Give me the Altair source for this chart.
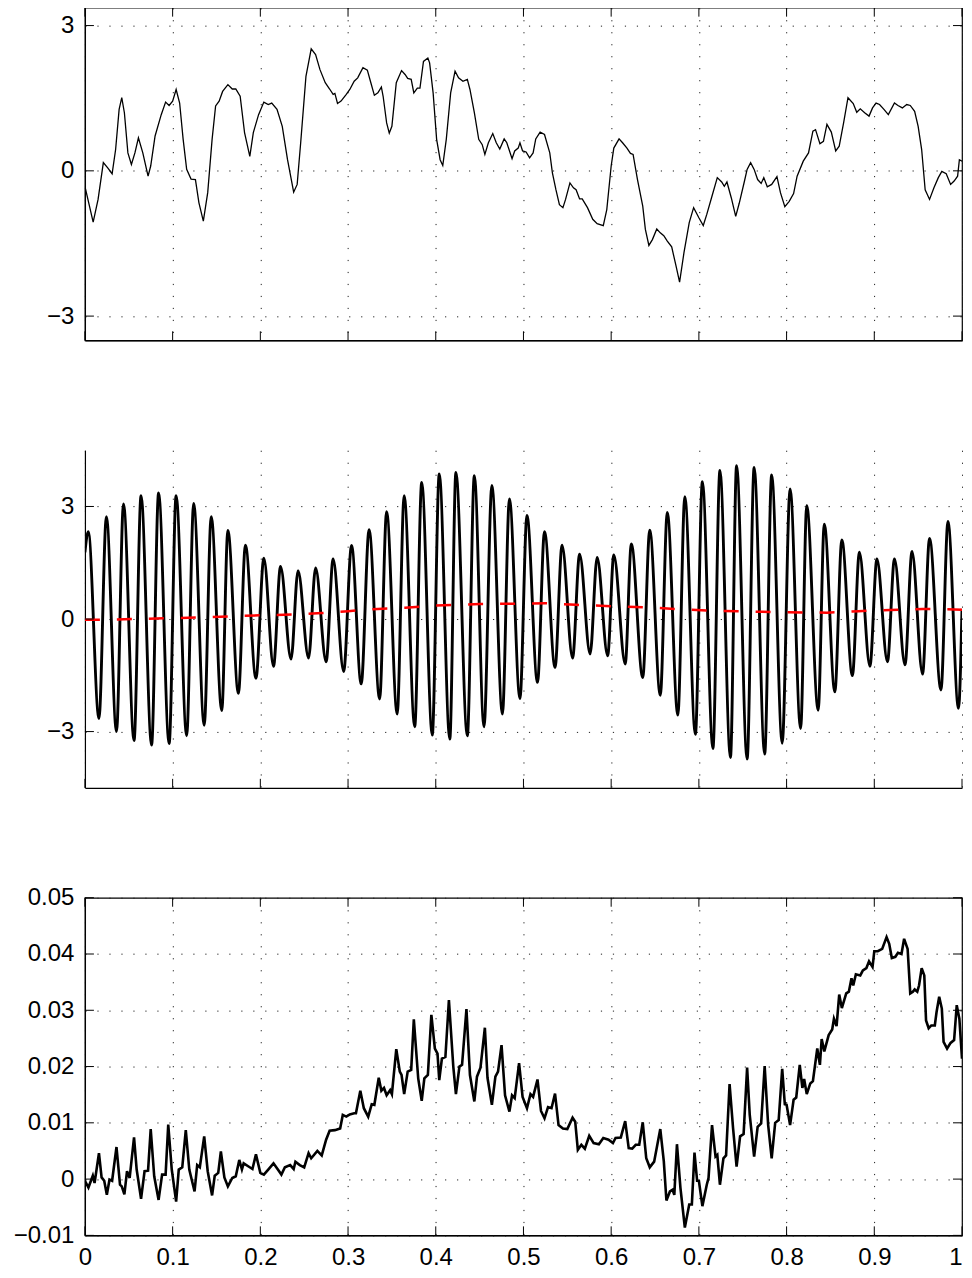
import altair as alt
import pandas as pd

# ---------------- data ----------------
X_TICKS = [0, 0.1, 0.2, 0.3, 0.4, 0.5, 0.6, 0.7, 0.8, 0.9, 1.0]
Y1_TICKS = [-3, 0, 3]
Y2_TICKS = [-3, 0, 3]
Y3_TICKS = [-0.01, 0, 0.01, 0.02, 0.03, 0.04, 0.05]

# top panel: noisy signal (t, value)
SIGNAL_TOP = [
    (0, -0.32), (0.0094, -1.06), (0.015, -0.59), (0.021, 0.17), (0.026, 0.06), (0.031, -0.06),
    (0.035, 0.44), (0.039, 1.27), (0.042, 1.51), (0.045, 1.2), (0.049, 0.37), (0.053, 0.13),
    (0.057, 0.37), (0.061, 0.68), (0.066, 0.37), (0.072, -0.11), (0.075, 0.10), (0.080, 0.72),
    (0.087, 1.16), (0.092, 1.42), (0.096, 1.35), (0.100, 1.44), (0.104, 1.68), (0.108, 1.40),
    (0.112, 0.65), (0.116, 0.03), (0.121, -0.17), (0.126, -0.18), (0.130, -0.66), (0.135, -1.04),
    (0.140, -0.45), (0.145, 0.65), (0.149, 1.34), (0.153, 1.44), (0.157, 1.64), (0.163, 1.78),
    (0.168, 1.69), (0.172, 1.69), (0.177, 1.54), (0.182, 0.79), (0.188, 0.30), (0.192, 0.79),
    (0.198, 1.16), (0.204, 1.42), (0.209, 1.37), (0.213, 1.40), (0.219, 1.27), (0.225, 0.92),
    (0.231, 0.23), (0.238, -0.44), (0.242, -0.28), (0.246, 0.58), (0.252, 1.95), (0.258, 2.52),
    (0.263, 2.40), (0.268, 2.09), (0.274, 1.82), (0.279, 1.69), (0.283, 1.58), (0.285, 1.60),
    (0.288, 1.39), (0.292, 1.44), (0.298, 1.58), (0.302, 1.68), (0.307, 1.85), (0.311, 1.92),
    (0.317, 2.13), (0.322, 2.08), (0.326, 1.82), (0.330, 1.56), (0.334, 1.61),
    (0.338, 1.73), (0.340, 1.54), (0.344, 0.99), (0.347, 0.78), (0.350, 0.92), (0.355, 1.82),
    (0.361, 2.07), (0.365, 1.99), (0.368, 1.91), (0.372, 1.89), (0.375, 1.61), (0.379, 1.71),
    (0.382, 1.71), (0.386, 2.26), (0.391, 2.33), (0.393, 2.23), (0.397, 1.61), (0.401, 0.65),
    (0.405, 0.23), (0.408, 0.11), (0.412, 0.65), (0.417, 1.61), (0.422, 2.06), (0.426, 1.92),
    (0.431, 1.85), (0.436, 1.89), (0.439, 1.68), (0.444, 1.20), (0.449, 0.65), (0.453, 0.54),
    (0.456, 0.34), (0.460, 0.58), (0.465, 0.77), (0.469, 0.58), (0.473, 0.45), (0.478, 0.66),
    (0.481, 0.58), (0.487, 0.25), (0.490, 0.41), (0.494, 0.47), (0.496, 0.58), (0.499, 0.41),
    (0.503, 0.39), (0.507, 0.27), (0.511, 0.37), (0.514, 0.66), (0.519, 0.80), (0.524, 0.75),
    (0.530, 0.37), (0.533, -0.04), (0.537, -0.39), (0.541, -0.70), (0.545, -0.76), (0.548, -0.59),
    (0.553, -0.25), (0.557, -0.35), (0.560, -0.39), (0.564, -0.58), (0.567, -0.58), (0.573, -0.76),
    (0.579, -1.00), (0.584, -1.09), (0.591, -1.13), (0.595, -0.80), (0.600, 0.10), (0.603, 0.47),
    (0.609, 0.66), (0.613, 0.58), (0.618, 0.47), (0.622, 0.36), (0.625, 0.34), (0.630, -0.18),
    (0.636, -0.73), (0.639, -1.21), (0.643, -1.54), (0.647, -1.42), (0.652, -1.20), (0.656, -1.28),
    (0.660, -1.34), (0.664, -1.45),
    (0.669, -1.57), (0.674, -1.97), (0.678, -2.30), (0.683, -1.69), (0.689, -1.07), (0.694, -0.76),
    (0.700, -0.97), (0.705, -1.13), (0.709, -0.90), (0.715, -0.52), (0.721, -0.14), (0.726, -0.23),
    (0.729, -0.32), (0.732, -0.23), (0.737, -0.56), (0.742, -0.94), (0.746, -0.67), (0.752, -0.21),
    (0.755, 0.03), (0.759, 0.17), (0.763, 0.03), (0.767, -0.18), (0.771, -0.26), (0.774, -0.14),
    (0.778, -0.33), (0.783, -0.28), (0.789, -0.12), (0.793, -0.45), (0.798, -0.74), (0.803, -0.63),
    (0.808, -0.47), (0.812, -0.11), (0.819, 0.20), (0.825, 0.37), (0.830, 0.82), (0.833, 0.85),
    (0.838, 0.56), (0.842, 0.61), (0.846, 0.96), (0.851, 0.80), (0.856, 0.41), (0.860, 0.51),
    (0.865, 0.99), (0.870, 1.51), (0.876, 1.39), (0.880, 1.21), (0.884, 1.28), (0.889, 1.20),
    (0.894, 1.13), (0.898, 1.30), (0.902, 1.40), (0.906, 1.37), (0.911, 1.27), (0.916, 1.16),
    (0.923, 1.40), (0.927, 1.35), (0.932, 1.30), (0.937, 1.37), (0.941, 1.35), (0.946, 1.23),
    (0.950, 0.92), (0.954, 0.44), (0.958, -0.39), (0.963, -0.59), (0.968, -0.35), (0.973, -0.14),
    (0.977, -0.01), (0.982, -0.06), (0.987, -0.28), (0.991, -0.21), (0.995, -0.11), (0.997, 0.23),
    (1.0, 0.20),
]

# middle panel: oscillation, successive peaks / troughs (t, value)
OSC_EXTREMA = [
    (0, 1.78), (0.0038, 2.33), (0.016, -2.65), (0.0245, 2.73), (0.036, -3.0), (0.044, 3.07),
    (0.056, -3.24), (0.064, 3.29), (0.076, -3.36), (0.084, 3.36), (0.096, -3.32), (0.104, 3.29),
    (0.116, -3.11), (0.124, 3.08), (0.136, -2.83), (0.144, 2.73), (0.156, -2.44), (0.163, 2.36),
    (0.175, -1.98), (0.183, 1.97), (0.195, -1.58), (0.204, 1.62), (0.215, -1.26), (0.223, 1.40),
    (0.235, -1.07), (0.243, 1.29), (0.255, -1.04), (0.263, 1.36), (0.275, -1.14), (0.283, 1.60),
    (0.295, -1.40), (0.304, 1.96), (0.315, -1.73), (0.324, 2.38), (0.336, -2.13), (0.344, 2.86),
    (0.356, -2.53), (0.364, 3.29), (0.376, -2.87), (0.384, 3.64), (0.396, -3.09), (0.404, 3.87),
    (0.416, -3.20), (0.423, 3.91), (0.436, -3.11), (0.444, 3.82), (0.455, -2.87), (0.464, 3.56),
    (0.476, -2.53), (0.484, 3.20), (0.496, -2.12), (0.504, 2.76), (0.516, -1.69), (0.524, 2.33),
    (0.536, -1.29), (0.544, 1.97), (0.556, -1.04), (0.564, 1.73), (0.576, -0.93), (0.584, 1.64),
    (0.596, -0.98), (0.603, 1.71), (0.616, -1.20), (0.623, 2.00), (0.636, -1.56), (0.644, 2.37),
    (0.656, -2.03), (0.664, 2.84), (0.676, -2.56), (0.684, 3.26), (0.696, -3.07), (0.704, 3.66),
    (0.716, -3.45), (0.724, 3.96), (0.736, -3.69), (0.743, 4.09), (0.755, -3.73), (0.763, 4.04),
    (0.775, -3.60), (0.783, 3.84), (0.795, -3.31), (0.804, 3.47), (0.816, -2.92), (0.823, 3.02),
    (0.836, -2.43), (0.843, 2.53), (0.855, -1.94), (0.863, 2.11), (0.875, -1.51), (0.883, 1.78),
    (0.895, -1.26), (0.903, 1.60), (0.915, -1.14), (0.923, 1.60), (0.935, -1.22), (0.943, 1.80),
    (0.955, -1.47), (0.963, 2.15), (0.976, -1.89), (0.984, 2.60), (0.996, -2.38), (1.0, 0.27),
]

# middle panel: red dashed trend (t, value)
TREND = [
    (0, -0.02), (0.028, -0.02), (0.056, 0.0), (0.09, 0.02), (0.128, 0.04), (0.164, 0.07),
    (0.2, 0.10), (0.24, 0.12), (0.27, 0.16), (0.3, 0.21), (0.334, 0.27), (0.365, 0.30),
    (0.4, 0.36), (0.45, 0.40), (0.49, 0.41), (0.525, 0.42), (0.56, 0.38), (0.6, 0.34),
    (0.65, 0.30), (0.686, 0.25), (0.72, 0.22), (0.758, 0.20), (0.8, 0.18), (0.846, 0.17),
    (0.882, 0.21), (0.918, 0.24), (0.955, 0.27), (1.0, 0.25),
]

# bottom panel: signal (t, value)
SIGNAL_BOTTOM = [
    (0, -0.0003), (0.004, -0.0015), (0.009, 0.0006), (0.011, -0.0007), (0.016, 0.0046),
    (0.019, 0.0003), (0.022, -0.0003), (0.025, -0.0028), (0.028, -0.0001), (0.031, -0.0003),
    (0.036, 0.0057), (0.040, -0.001), (0.042, -0.0013), (0.045, -0.0027), (0.048, 0.0014),
    (0.051, 0.0002), (0.056, 0.0074), (0.059, 0.0017), (0.064, -0.0035), (0.068, 0.0014),
    (0.072, 0.0015), (0.075, 0.0089), (0.079, 0.0005), (0.084, -0.0037), (0.088, 0.0008),
    (0.092, 0.0008), (0.095, 0.0097), (0.099, 0.0017), (0.104, -0.004), (0.107, 0.0017),
    (0.111, 0.0021), (0.115, 0.0087), (0.119, 0.0017), (0.125, -0.0022), (0.128, 0.0025),
    (0.131, 0.0021), (0.136, 0.0076), (0.140, 0.0014), (0.145, -0.0029), (0.148, 0.0006),
    (0.152, 0.0011), (0.155, 0.0049), (0.159, 0.0003), (0.163, -0.0013), (0.168, 0.0002),
    (0.172, 0.0005), (0.176, 0.0034), (0.179, 0.0017), (0.181, 0.0028), (0.187, 0.0022),
    (0.191, 0.0018), (0.195, 0.0044), (0.200, 0.0011), (0.204, 0.0008), (0.209, 0.0017),
    (0.215, 0.0028), (0.220, 0.0017), (0.224, 0.0008), (0.228, 0.0021), (0.234, 0.0025),
    (0.238, 0.0018), (0.240, 0.0031), (0.245, 0.0025), (0.250, 0.0021), (0.255, 0.0046),
    (0.258, 0.0037), (0.265, 0.005), (0.270, 0.0042), (0.275, 0.007), (0.279, 0.0086),
    (0.285, 0.0087), (0.291, 0.009), (0.294, 0.0114), (0.298, 0.0111), (0.302, 0.0115),
    (0.307, 0.0117), (0.309, 0.0117), (0.314, 0.0157), (0.318, 0.0126), (0.323, 0.0111),
    (0.327, 0.0133), (0.330, 0.0132), (0.335, 0.018), (0.338, 0.0157), (0.341, 0.0162),
    (0.344, 0.0149), (0.348, 0.0158), (0.350, 0.0151), (0.355, 0.0231), (0.359, 0.0191),
    (0.361, 0.0185), (0.364, 0.0151), (0.368, 0.0191), (0.372, 0.0194), (0.375, 0.0284),
    (0.380, 0.0179), (0.384, 0.0139), (0.387, 0.0179), (0.391, 0.0185), (0.395, 0.0292),
    (0.399, 0.0232), (0.402, 0.0223), (0.404, 0.0176), (0.407, 0.0214), (0.411, 0.0217),
    (0.415, 0.0318), (0.420, 0.020), (0.423, 0.0151), (0.427, 0.020), (0.430, 0.0203),
    (0.435, 0.0302), (0.439, 0.0185), (0.444, 0.0138), (0.447, 0.0182), (0.451, 0.0198),
    (0.456, 0.0269), (0.459, 0.018), (0.464, 0.0132), (0.468, 0.0182), (0.471, 0.0191),
    (0.475, 0.0238), (0.479, 0.0149), (0.484, 0.012), (0.487, 0.0149), (0.490, 0.0144),
    (0.495, 0.0206), (0.499, 0.0146), (0.504, 0.0126), (0.508, 0.0151), (0.511, 0.0146),
    (0.516, 0.0177), (0.520, 0.0121), (0.524, 0.0108), (0.528, 0.0128), (0.532, 0.0126),
    (0.536, 0.0152), (0.540, 0.0096), (0.545, 0.009), (0.550, 0.0089), (0.556, 0.0109),
    (0.559, 0.0102), (0.562, 0.0052), (0.566, 0.0061), (0.570, 0.0054), (0.575, 0.0077),
    (0.580, 0.0064), (0.586, 0.0062), (0.591, 0.0073), (0.597, 0.007), (0.602, 0.0064),
    (0.605, 0.0073), (0.611, 0.0074), (0.616, 0.0103), (0.620, 0.0055), (0.624, 0.0054),
    (0.628, 0.0061), (0.632, 0.0061), (0.636, 0.0101), (0.640, 0.0037), (0.644, 0.0021),
    (0.649, 0.0031), (0.656, 0.0089), (0.660, 0.0032), (0.663, -0.0038), (0.667, -0.0022),
    (0.670, -0.0019), (0.672, -0.0028), (0.675, 0.0062), (0.679, -0.0016), (0.684, -0.0086),
    (0.689, -0.0045), (0.692, -0.0045), (0.695, 0.0047), (0.698, -0.0003), (0.700, -0.0003),
    (0.704, -0.0048), (0.709, -0.001), (0.711, 0.0002), (0.715, 0.0096), (0.719, 0.004),
    (0.721, 0.0043), (0.724, -0.001), (0.728, 0.0037), (0.731, 0.0042), (0.735, 0.0169),
    (0.739, 0.009), (0.743, 0.0022), (0.747, 0.0076), (0.751, 0.008), (0.755, 0.0198),
    (0.758, 0.0114), (0.763, 0.004), (0.767, 0.0093), (0.771, 0.0099), (0.775, 0.0201),
    (0.779, 0.0096), (0.783, 0.0037), (0.787, 0.010), (0.791, 0.0105), (0.795, 0.0196),
    (0.798, 0.0133), (0.800, 0.0132), (0.804, 0.0096), (0.808, 0.0141), (0.811, 0.0145),
    (0.815, 0.0203), (0.818, 0.0162), (0.820, 0.0178), (0.823, 0.0151), (0.827, 0.017),
    (0.830, 0.0174), (0.835, 0.0232), (0.838, 0.0203), (0.840, 0.0249), (0.843, 0.0227),
    (0.848, 0.0256), (0.852, 0.0266), (0.854, 0.0285), (0.857, 0.0272), (0.860, 0.0328),
    (0.863, 0.0304), (0.868, 0.033), (0.871, 0.0333), (0.874, 0.0357), (0.876, 0.0344),
    (0.879, 0.0364), (0.884, 0.0362), (0.887, 0.0371), (0.891, 0.0375), (0.894, 0.0387),
    (0.898, 0.0377), (0.900, 0.0405), (0.904, 0.0405), (0.909, 0.0409), (0.914, 0.043),
    (0.917, 0.0418), (0.920, 0.0393), (0.924, 0.0395), (0.927, 0.0402), (0.931, 0.040),
    (0.934, 0.0427), (0.938, 0.0409), (0.941, 0.033), (0.944, 0.0333), (0.946, 0.0337),
    (0.949, 0.0333), (0.951, 0.0344), (0.954, 0.0375), (0.957, 0.0362), (0.959, 0.0282),
    (0.962, 0.0268), (0.965, 0.0273), (0.969, 0.0273), (0.971, 0.0297), (0.974, 0.0324),
    (0.977, 0.0303), (0.979, 0.0244), (0.983, 0.0232), (0.987, 0.0242), (0.991, 0.0247),
    (0.994, 0.0309), (0.997, 0.0285), (1.0, 0.0214),
]

# ---------------- styling ----------------
FONT = "Liberation Sans"
FS = 24
W = 878
TICK = 9
GRID = dict(grid=True, gridDash=[1.2, 10.8], gridColor="#222222", gridWidth=1, gridOpacity=1)


def to_df(pairs):
    return pd.DataFrame(pairs, columns=["t", "v"])


def x_axis(show_labels):
    return alt.Axis(
        values=X_TICKS, ticks=False, labels=show_labels, title=None,
        domain=True, domainColor="black", domainWidth=1.2,
        labelFont=FONT, labelFontSize=FS, labelColor="black", labelPadding=10,
        labelExpr="format(datum.value, '~g')",
        labelAlign={"condition": {"test": "datum.value == 1", "value": "right"}, "value": "center"},
        **GRID,
    )


def y_axis(values):
    return alt.Axis(
        values=values, ticks=False, title=None,
        domain=True, domainColor="black", domainWidth=1.2,
        labelFont=FONT, labelFontSize=FS, labelColor="black", labelPadding=11,
        labelExpr="format(datum.value, '~g')",
        **GRID,
    )


def panel(line_specs, y_domain, y_ticks, height, box, show_x_labels):
    xs = alt.Scale(domain=[0, 1], nice=False, zero=False)
    ys = alt.Scale(domain=y_domain, nice=False, zero=False)
    xa = x_axis(show_x_labels)
    ya = y_axis(y_ticks)
    layers = []
    for pairs, mark_kw in line_specs:
        layers.append(alt.Chart(to_df(pairs)).mark_line(clip=True, **mark_kw).encode(
            x=alt.X("t:Q", scale=xs, axis=xa), y=alt.Y("v:Q", scale=ys, axis=ya)))

    ydf = pd.DataFrame({"v": y_ticks})
    xdf = pd.DataFrame({"t": X_TICKS})
    rule = dict(color="black", strokeWidth=1)
    layers.append(alt.Chart(ydf).mark_rule(**rule).encode(
        y=alt.Y("v:Q", scale=ys, axis=ya), x=alt.value(0), x2=alt.value(TICK)))
    layers.append(alt.Chart(xdf).mark_rule(**rule).encode(
        x=alt.X("t:Q", scale=xs, axis=xa), y=alt.value(height - TICK), y2=alt.value(height)))
    if box:
        layers.append(alt.Chart(ydf).mark_rule(**rule).encode(
            y=alt.Y("v:Q", scale=ys, axis=ya), x=alt.value(W - TICK), x2=alt.value(W)))
        layers.append(alt.Chart(xdf).mark_rule(**rule).encode(
            x=alt.X("t:Q", scale=xs, axis=xa), y=alt.value(0), y2=alt.value(TICK)))
    ch = alt.layer(*layers).properties(width=W, height=height)
    if not box:
        ch = ch.properties(view=alt.ViewBackground(stroke="transparent"))
    return ch


top = panel([(SIGNAL_TOP, dict(color="black", strokeWidth=1.3))],
            [-3.5, 3.37], Y1_TICKS, 333, True, False)
mid = panel([(OSC_EXTREMA, dict(color="black", strokeWidth=2.9, interpolate="monotone")),
             (TREND, dict(color="#ff0000", strokeWidth=2.5, strokeDash=[15, 17]))],
            [-4.5, 4.5], Y2_TICKS, 338, False, False)
bot = panel([(SIGNAL_BOTTOM, dict(color="black", strokeWidth=2.6))],
            [-0.01, 0.05], Y3_TICKS, 338, True, True)

chart = alt.vconcat(top, mid, bot, spacing=110, bounds="flush").properties(
    padding={"left": 4, "top": -3, "right": 0, "bottom": 0},
    background="white",
).configure_view(stroke="black", strokeWidth=1.2)

chart.save("out.html", embed_options={"renderer": "svg", "actions": False})
